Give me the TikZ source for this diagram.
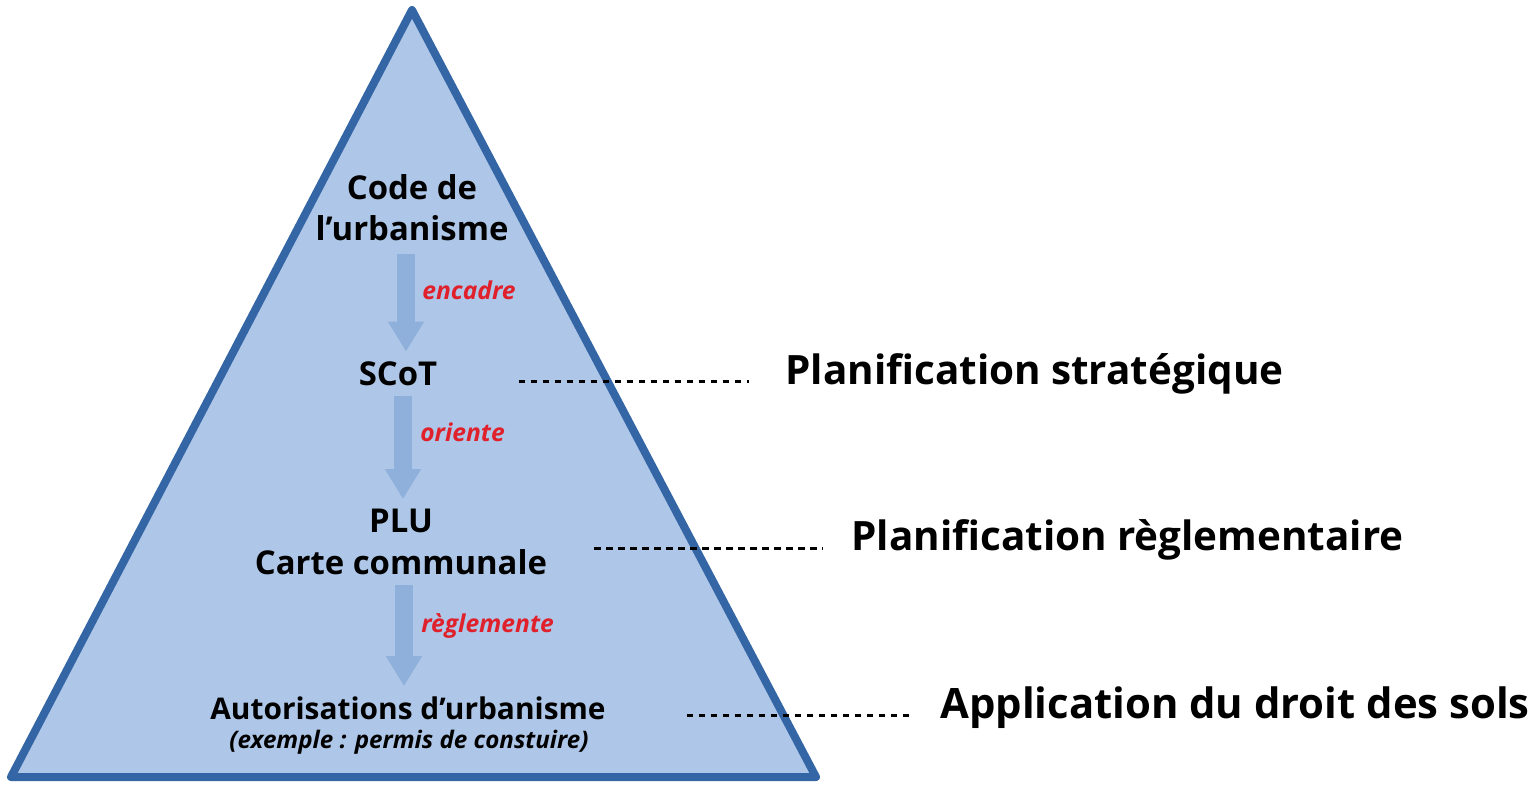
\documentclass[tikz,border=0pt]{standalone}
\usepackage{fontspec}
\setmainfont{Open Sans}
\usetikzlibrary{arrows.meta}

\definecolor{pyrfill}{HTML}{AEC6E7}
\definecolor{pyredge}{HTML}{3465A5}
\definecolor{flowblue}{HTML}{8EB0DB}
\definecolor{verbred}{HTML}{E0202A}

\begin{document}
\begin{tikzpicture}[x=0.02cm, y=-0.02cm]
% one unit = one pixel, y grows downwards

\tikzstyle{pyramid} = [draw=pyredge, fill=pyrfill, line width=0.16cm, line join=round] % the big triangle
\tikzstyle{level}   = [font=\bfseries\fontsize{18.7}{23.5}\selectfont, align=center, inner sep=0pt] % text inside the pyramid
\tikzstyle{verb}    = [font=\bfseries\itshape\fontsize{14}{16}\selectfont, color=verbred, inner sep=0pt, anchor=west] % red verbs
\tikzstyle{note}    = [font=\bfseries\itshape\fontsize{13.75}{16}\selectfont, inner sep=0pt] % example line
\tikzstyle{title}   = [font=\bfseries\fontsize{23}{27}\selectfont, inner sep=0pt, anchor=west] % labels on the right
\tikzstyle{flow}    = [line width=0.36cm, color=flowblue, -{Triangle[width=0.68cm, length=0.6cm]}] % fat arrow
\tikzstyle{guide}   = [line width=0.06cm, dash pattern=on 0.13cm off 0.11cm] % dashed leader

\useasboundingbox (0,0) rectangle (1532,785);

% pyramid
\draw[pyramid] (412,10)--(816,777)--(11,777)--cycle;

% levels of the hierarchy
\node(code)[level] at (412,208){Code de\\l’urbanisme};
\node(scot)[level] at (398,374){SCoT};
\node(plu)[level] at (401,542){PLU\\Carte communale};
\node(auto)[level, font=\bfseries\fontsize{17}{20}\selectfont] at (408,708){Autorisations d’urbanisme};
\node(ex)[note] at (409,742){(exemple : permis de constuire)};

% arrows between the levels
\draw[flow,shorten <=0.24cm,shorten >=0.2cm](code.south-|406,0)--(scot.north-|406,0);
\draw[flow,shorten <=0.2cm,shorten >=0.2cm](scot.south-|403,0)--(plu.north-|403,0);
\draw[flow,shorten <=0.2cm,shorten >=0.2cm](plu.south-|404,0)--(auto.north-|404,0);

% verbs next to the arrows
\node(v1)[verb] at (422,290){encadre};
\node(v2)[verb] at (420,432){oriente};
\node(v3)[verb] at (421,626){règlemente};

% labels on the right
\node(strat)[title] at (785,374){Planification stratégique};
\node(regl)[title] at (851,540){Planification règlementaire};
\node(ads)[title, font=\bfseries\fontsize{23.8}{27}\selectfont] at (940,708){Application du droit des sols};

% dashed leaders
\draw[guide](scot.east|-0,381)--(strat.west|-0,381) [shorten <=1.62cm, shorten >=0.72cm];
\draw[guide](plu.east|-0,548)--(regl.west|-0,548) [shorten <=0.94cm, shorten >=0.56cm];
\draw[guide](auto.east|-0,715)--(ads.west|-0,715) [shorten <=1.62cm, shorten >=0.54cm];
\end{tikzpicture}
\end{document}
